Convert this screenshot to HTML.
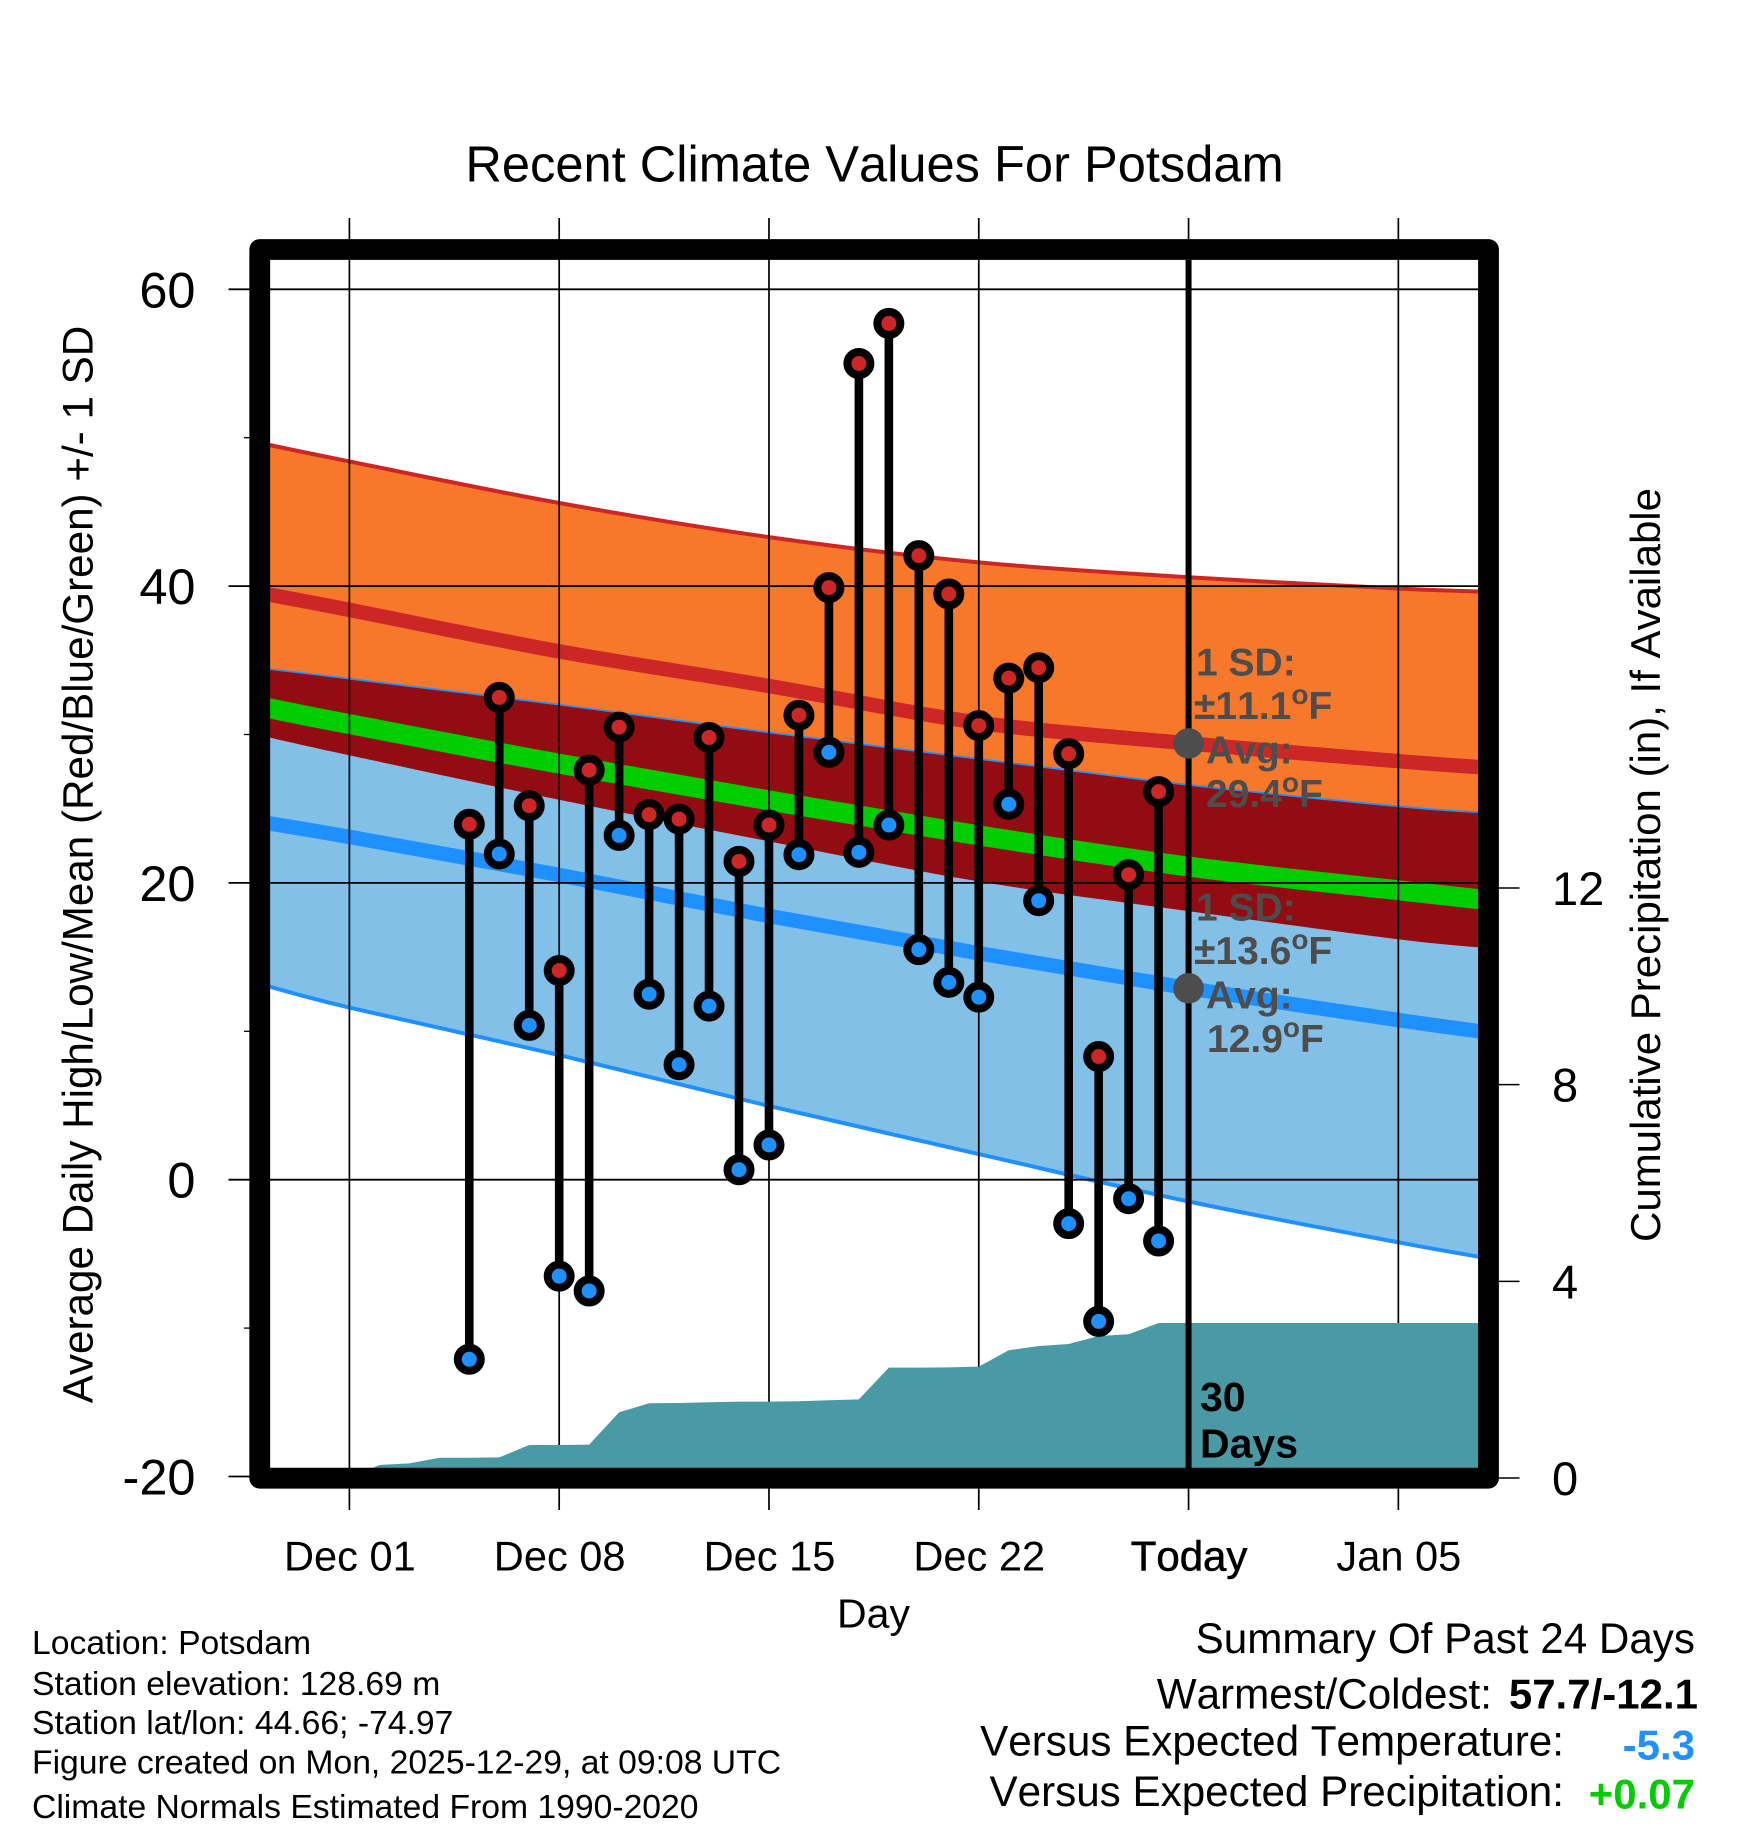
<!DOCTYPE html>
<html lang="en">
<head>
<meta charset="utf-8">
<title>Recent Climate Values For Potsdam</title>
<style>
html,body{margin:0;padding:0;background:#fff;}
svg{display:block;font-family:"Liberation Sans",Arial,sans-serif;font-kerning:none;}
svg text{font-kerning:none;}
.gray{fill:#4d4d4d;font-weight:bold;font-size:39px;}
.info{font-size:33.7px;fill:#000;}
.sum{font-size:42.2px;fill:#000;text-anchor:end;}
.sumv{font-size:42px;font-weight:bold;text-anchor:end;}
</style>
</head>
<body>
<svg id="chart" xmlns="http://www.w3.org/2000/svg" width="1748" height="1828" viewBox="0 0 1748 1828">
  <defs>
    <clipPath id="plot-clip"><rect x="265" y="255" width="1218" height="1218"/></clipPath>
  </defs>
  <rect x="0" y="0" width="1748" height="1828" fill="#fff"/>
  <g id="bands" clip-path="url(#plot-clip)"></g>
  <g id="grid"></g>
  <g id="precip"></g>
  <g id="frame"></g>
  <g id="marks"></g>
  <g id="ticks"></g>

  <text x="874.5" y="181.5" font-size="50.6" text-anchor="middle">Recent Climate Values For Potsdam</text>
  <text transform="translate(92.5,864.5) rotate(-90)" font-size="42.2" text-anchor="middle">Average Daily High/Low/Mean (Red/Blue/Green) +/- 1 SD</text>
  <text transform="translate(1660,865) rotate(-90)" font-size="42" text-anchor="middle">Cumulative Precipitation (in), If Available</text>
  <text x="873.5" y="1627.5" font-size="41" text-anchor="middle">Day</text>

  <g>
    <text class="gray" x="1196" y="675.3">1 SD:</text>
    <text class="gray" x="1194" y="719">±11.1<tspan font-size="28" dy="-15">o</tspan><tspan dy="15">F</tspan></text>
    <text class="gray" x="1206" y="763.5">Avg:</text>
    <text class="gray" x="1206" y="807">29.4<tspan font-size="28" dy="-15">o</tspan><tspan dy="15">F</tspan></text>
  </g>
  <g>
    <text class="gray" x="1196" y="920.3">1 SD:</text>
    <text class="gray" x="1194" y="964">±13.6<tspan font-size="28" dy="-15">o</tspan><tspan dy="15">F</tspan></text>
    <text class="gray" x="1206" y="1008.5">Avg:</text>
    <text class="gray" x="1207" y="1052">12.9<tspan font-size="28" dy="-15">o</tspan><tspan dy="15">F</tspan></text>
  </g>
  <text x="1200" y="1411" font-size="41" font-weight="bold">30</text>
  <text x="1200" y="1457.5" font-size="41" font-weight="bold">Days</text>

  <g>
    <text class="info" x="32" y="1654">Location: Potsdam</text>
    <text class="info" x="32" y="1695">Station elevation: 128.69 m</text>
    <text class="info" x="32" y="1734">Station lat/lon: 44.66; -74.97</text>
    <text class="info" x="32" y="1773.5">Figure created on Mon, 2025-12-29, at 09:08 UTC</text>
    <text class="info" x="32" y="1818">Climate Normals Estimated From 1990-2020</text>
  </g>
  <g>
    <text class="sum" x="1695" y="1653">Summary Of Past 24 Days</text>
    <text class="sum" x="1492" y="1708.5">Warmest/Coldest:</text>
    <text class="sumv" x="1698" y="1708.5" fill="#000">57.7/-12.1</text>
    <text class="sum" x="1564" y="1755.5">Versus Expected Temperature:</text>
    <text class="sumv" x="1695" y="1759.5" fill="#1e90ff">-5.3</text>
    <text class="sum" x="1564" y="1806">Versus Expected Precipitation:</text>
    <text class="sumv" x="1695" y="1808.5" fill="#00cd00">+0.07</text>
  </g>
</svg>
<script>
// Days are counted from Dec 01.
const bandDays = [-3, 0, 7, 14, 21, 28, 35, 38];
const highUpper = [49.65, 48.4, 45.6, 43.3, 41.6, 40.6, 39.84, 39.62];
const highMean = [39.55, 38.4, 35.6, 33.27, 30.8, 29.4, 28.2, 27.76];
const highLower = [29.95, 28.6, 25.6, 22.8, 20.1, 18.1, 16.2, 15.6];
const lowUpper = [34.43, 33.7, 31.95, 30.08, 28.3, 26.55, 25.1, 24.66];
const dailyMean = [31.9, 30.7, 28.03, 25.56, 23.2, 21.1, 19.5, 18.83];
const lowMean = [24.12, 23.1, 20.53, 17.77, 15.26, 12.9, 10.76, 9.92];
const lowLower = [13.2, 11.6, 8.4, 4.97, 1.73, -1.47, -4.22, -5.3];

const recordDays = [4, 5, 6, 7, 8, 9, 10, 11, 12, 13, 14, 15, 16, 17, 18, 19, 20, 21, 22, 23, 24, 25, 26, 27];
const recordHigh = [23.95, 32.5, 25.2, 14.1, 27.6, 30.5, 24.6, 24.3, 29.8, 21.45, 23.9, 31.3, 39.9, 55.0, 57.7, 42.05, 39.47, 30.6, 33.8, 34.5, 28.7, 8.3, 20.55, 26.15];
const recordLow = [-12.1, 21.95, 10.4, -6.5, -7.5, 23.2, 12.5, 7.75, 11.7, 0.67, 2.34, 21.9, 28.8, 22.06, 23.9, 15.5, 13.3, 12.3, 25.3, 18.8, -2.96, -9.55, -1.28, -4.13];

const precipDays = [-2.65, 0, 1, 2, 3, 4, 5, 6, 7, 8, 9, 10, 11, 12, 13, 14, 15, 16, 17, 18, 19, 20, 21, 22, 23, 24, 25, 26, 27, 37.7];
const precipValues = [0, 0, 0.264, 0.298, 0.413, 0.413, 0.42, 0.671, 0.671, 0.678, 1.336, 1.519, 1.526, 1.54, 1.553, 1.553, 1.56, 1.58, 1.6, 2.244, 2.244, 2.25, 2.264, 2.597, 2.685, 2.726, 2.889, 2.923, 3.153, 3.153];

const xTickDays = [0, 7, 14, 21, 28, 35];
const xTickLabels = ["Dec 01", "Dec 08", "Dec 15", "Dec 22", "Today", "Jan 05"];
const yTicks = [-20, 0, 20, 40, 60];
const yMinorTicks = [-10, 10, 30, 50];
const precipTicks = [0, 4, 8, 12];
const todayDay = 28;
const todayHighAvg = 29.4;
const todayLowAvg = 12.9;

const NS = "http://www.w3.org/2000/svg";
const plot = {left: 270, right: 1478, top: 260, bottom: 1468};
function x(d) { return 349.4 + 29.97 * d; }
function y(v) { return 1179.7 - 14.84 * v; }
function yP(v) { return 1478 - 49.17 * v; }

function make(tag, parent, attrs) {
  const el = document.createElementNS(NS, tag);
  for (const k in attrs) el.setAttribute(k, attrs[k]);
  parent.appendChild(el);
  return el;
}
function pts(ds, vs) {
  return ds.map((d, i) => [x(d), y(vs[i])]);
}
// Smooth curve through the read values (Catmull-Rom to Bezier).
function curve(p, start) {
  let s = (start || "M") + p[0][0].toFixed(2) + "," + p[0][1].toFixed(2);
  for (let i = 0; i < p.length - 1; i++) {
    const a = p[Math.max(i - 1, 0)], b = p[i], c = p[i + 1], e = p[Math.min(i + 2, p.length - 1)];
    const c1x = b[0] + (c[0] - a[0]) / 6, c1y = b[1] + (c[1] - a[1]) / 6;
    const c2x = c[0] - (e[0] - b[0]) / 6, c2y = c[1] - (e[1] - b[1]) / 6;
    s += " C" + c1x.toFixed(2) + "," + c1y.toFixed(2) + " " + c2x.toFixed(2) + "," + c2y.toFixed(2) + " " + c[0].toFixed(2) + "," + c[1].toFixed(2);
  }
  return s;
}
function areaPath(ds, top, bottom) {
  return curve(pts(ds, top)) + " " + curve(pts(ds, bottom).reverse(), "L") + " Z";
}

const bands = document.getElementById("bands");
const grid = document.getElementById("grid");
const precip = document.getElementById("precip");
const frame = document.getElementById("frame");
const marks = document.getElementById("marks");
const ticks = document.getElementById("ticks");

// Bands
let el = make("path", bands, {d: areaPath(bandDays, lowUpper, lowLower), fill: "#82c0e8"});



el = make("path", bands, {d: curve(pts(bandDays, lowLower)), fill: "none", stroke: "#1e90ff", "stroke-width": 4});



el = make("path", bands, {d: areaPath(bandDays, highUpper, highLower), fill: "#f7782b"});



el = make("path", bands, {d: curve(pts(bandDays, highUpper)), fill: "none", stroke: "#cd2626", "stroke-width": 4});



el = make("path", bands, {d: curve(pts(bandDays, lowUpper)), fill: "none", stroke: "#1e90ff", "stroke-width": 3.5});



el = make("path", bands, {d: areaPath(bandDays, lowUpper, highLower), fill: "#930c12"});



el = make("path", bands, {d: curve(pts(bandDays, highMean)), fill: "none", stroke: "#cd2626", "stroke-width": 14.5});



el = make("path", bands, {d: curve(pts(bandDays, lowMean)), fill: "none", stroke: "#1e90ff", "stroke-width": 14.5});



el = make("path", bands, {d: curve(pts(bandDays, dailyMean)), fill: "none", stroke: "#00cd00", "stroke-width": 20});



// Grid
xTickDays.forEach(function (d) {
  const line = make("line", grid, {x1: x(d), x2: x(d), y1: 218, y2: 1510, stroke: "#000", "stroke-width": 1.7});
  
  
});
yTicks.forEach(function (v) {
  const line = make("line", grid, {x1: 228.5, x2: plot.right, y1: y(v), y2: y(v), stroke: "#000", "stroke-width": 1.8});
  
  
});

// Precipitation
const precipTop = precipDays.map((d, i) => x(d).toFixed(2) + "," + yP(precipValues[i]).toFixed(2));
el = make("polygon", precip, {points: precipTop.join(" ") + " " + x(37.7) + "," + yP(0) + " " + x(-2.65) + "," + yP(0), fill: "#4a9aa5"});



// Today line
el = make("line", frame, {x1: x(todayDay), x2: x(todayDay), y1: plot.top, y2: plot.bottom, stroke: "#000", "stroke-width": 6});



// Frame
el = make("rect", frame, {x: 259.75, y: 249.5, width: 1228.75, height: 1228.7, fill: "none", stroke: "#000", "stroke-width": 20.8, "stroke-linejoin": "round"});



// Daily stems and markers
recordDays.forEach(function (d, i) {
  const stem = make("line", marks, {x1: x(d), x2: x(d), y1: y(recordHigh[i]), y2: y(recordLow[i]), stroke: "#000", "stroke-width": 8.6});
  
  
});
recordDays.forEach(function (d, i) {
  const hi = make("circle", marks, {cx: x(d), cy: y(recordHigh[i]), r: 11.5, fill: "#cd2626", stroke: "#000", "stroke-width": 8});
  
  
  const lo = make("circle", marks, {cx: x(d), cy: y(recordLow[i]), r: 11.5, fill: "#1e90ff", stroke: "#000", "stroke-width": 8});
  
  
});

// Today markers
el = make("circle", marks, {cx: x(todayDay), cy: y(todayHighAvg), r: 15.3, fill: "#4d4d4d"});


el = make("circle", marks, {cx: x(todayDay), cy: y(todayLowAvg), r: 15.3, fill: "#4d4d4d"});



// Axis ticks and labels
yMinorTicks.forEach(function (v) {
  const t = make("line", ticks, {x1: 244, x2: 250, y1: y(v), y2: y(v), stroke: "#000", "stroke-width": 1.3});
  
  
});
yTicks.forEach(function (v) {
  const t = make("text", ticks, {x: 195.5, y: y(v) + 18, "font-size": 50.5, "text-anchor": "end"});
  t.textContent = String(v);
  
  
});
xTickDays.forEach(function (d, i) {
  const t = make("text", ticks, {x: x(d) + 0.5, y: 1570.5, "font-size": xTickDays[i] === todayDay ? 42 : 41.6, "text-anchor": "middle"});
  if (xTickDays[i] === todayDay) {
    t.setAttribute("stroke", "#000");
    t.setAttribute("stroke-width", "0.6");
  }
  t.textContent = xTickLabels[i];
  
  
});
precipTicks.forEach(function (v) {
  const line = make("line", ticks, {x1: 1499, x2: 1519.5, y1: yP(v), y2: yP(v), stroke: "#000", "stroke-width": 1.5});
  
  
  const t = make("text", ticks, {x: 1552, y: yP(v) + 17, "font-size": 47});
  t.textContent = String(v);
  
  
});
</script>
</body>
</html>
